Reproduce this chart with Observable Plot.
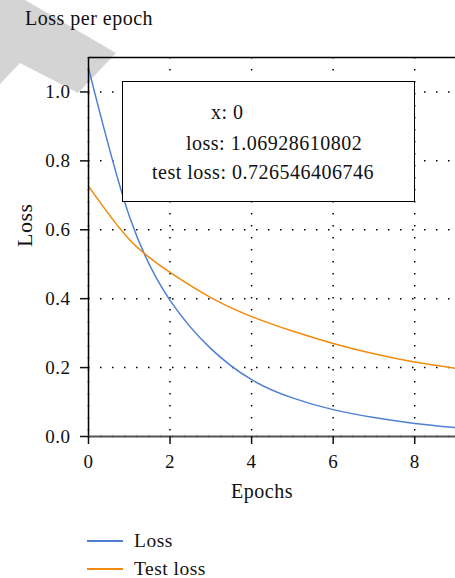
<!DOCTYPE html>
<html>
<head>
<meta charset="utf-8">
<script src="https://cdn.jsdelivr.net/npm/d3@7"></script>
<script src="https://cdn.jsdelivr.net/npm/@observablehq/plot@0.6"></script>
<style>
  html, body { margin: 0; padding: 0; background: #fff; }
  #root { position: relative; width: 455px; height: 578px; overflow: hidden;
          font-family: "Liberation Serif", serif; color: #111; letter-spacing: 0.5px; }
  #mark { position: absolute; left: 0; top: 0; width: 130px; height: 100px; background: #d4d4d4;
          clip-path: polygon(0px 0px, 25px 0px, 116px 53px, 78px 93px, 20px 63px, 0px 84px); }
  #chart { position: absolute; left: 0; top: 0; }
  #chart svg text { font-family: "Liberation Serif", serif; }
  #title { position: absolute; left: 25px; top: 8px; font-size: 20px; line-height: 20px; white-space: nowrap; }
  #tip { position: absolute; left: 122px; top: 81px; width: 291px; height: 119px; background: #fff;
         border: 1.5px solid #000; font-size: 20px; line-height: 20px; }
  #tip div { position: absolute; white-space: nowrap; }
  .leg-line { position: absolute; left: 87px; width: 36px; height: 1.5px; }
  .leg-text { position: absolute; left: 134px; font-size: 19.5px; line-height: 19px; white-space: nowrap; }
</style>
</head>
<body>
<div id="root">
  <div id="mark"></div>
  <div id="title"></div>
  <div id="chart"></div>
  <div id="tip"></div>
  <div id="legend"></div>
</div>
<script>
// ---- data ----
const epochs   = [0, 1, 2, 3, 4, 5, 6, 7, 8, 9];
const loss     = [1.06928610802, 0.64, 0.395, 0.255, 0.165, 0.112, 0.078, 0.055, 0.038, 0.026];
const testLoss = [0.726546406746, 0.572, 0.476, 0.403, 0.348, 0.306, 0.270, 0.240, 0.216, 0.198];
const xTicks = [0, 2, 4, 6, 8];
const yTicks = [0, 0.2, 0.4, 0.6, 0.8, 1.0];
const seriesNames = ["Loss", "Test loss"];
const seriesColors = ["#4f7fd3", "#f28a0c"];
const titleText = "Loss per epoch";
const xLabel = "Epochs";
const yLabel = "Loss";
const tipIndex = 0;

const rows = epochs.map((e, i) => ({epoch: e, loss: loss[i], test: testLoss[i]}));
const serif = "Liberation Serif";

const chart = Plot.plot({
  width: 455,
  height: 520,
  marginTop: 57,
  marginLeft: 88,
  marginRight: 0,
  marginBottom: 84,
  style: {fontFamily: serif, fontSize: "19px", background: "transparent", color: "#111", letterSpacing: "0.5px"},
  x: {domain: [0, 9]},
  y: {domain: [0, 1.1]},
  marks: [
    Plot.gridX(xTicks, {stroke: "#000", strokeOpacity: 1, strokeWidth: 1.5, strokeDasharray: "1.5,10.5"}),
    Plot.gridY(yTicks, {stroke: "#000", strokeOpacity: 1, strokeWidth: 1.5, strokeDasharray: "1.5,10.5"}),
    Plot.line(rows, {x: "epoch", y: "loss", stroke: seriesColors[0], strokeWidth: 1.5, curve: "natural"}),
    Plot.line(rows, {x: "epoch", y: "test", stroke: seriesColors[1], strokeWidth: 1.5, curve: "natural"}),
    Plot.ruleY([1.1], {stroke: "#000", strokeWidth: 1.5}),
    Plot.ruleX([0], {stroke: "#000", strokeWidth: 1.5, insetBottom: -2}),
    Plot.ruleY([0], {stroke: "#555", strokeWidth: 2}),
    Plot.axisY(yTicks, {tickSize: 8, tickPadding: 10, tickFormat: d3.format(".1f"), label: null, strokeWidth: 1.5, fontFamily: serif}),
    Plot.axisX(xTicks, {tickSize: 8, tickPadding: 10, tickFormat: d => String(d), label: null, strokeWidth: 1.5, fontFamily: serif}),
    Plot.text([xLabel], {frameAnchor: "bottom", dy: 61, dx: -10, fontSize: 20, fontFamily: serif}),
    Plot.text([yLabel], {frameAnchor: "left", dx: -64, rotate: -90, fontSize: 22, fontFamily: serif})
  ]
});
document.getElementById("chart").appendChild(chart);

document.getElementById("title").textContent = titleText;

// tooltip
const tip = document.getElementById("tip");
const tipLines = [
  {text: "x: " + epochs[tipIndex], left: 88, top: 20},
  {text: "loss: " + loss[tipIndex], left: 63, top: 51},
  {text: "test loss: " + testLoss[tipIndex], left: 29, top: 80}
];
tipLines.forEach(l => {
  const d = document.createElement("div");
  d.textContent = l.text;
  d.style.left = l.left + "px";
  d.style.top = l.top + "px";
  tip.appendChild(d);
});

// legend
const legend = document.getElementById("legend");
const legLineY = [541, 569];
seriesNames.forEach((name, i) => {
  const ln = document.createElement("div");
  ln.className = "leg-line";
  ln.style.top = (legLineY[i] - 0.75) + "px";
  ln.style.background = seriesColors[i];
  legend.appendChild(ln);
  const t = document.createElement("div");
  t.className = "leg-text";
  t.textContent = name;
  t.style.top = (legLineY[i] - 10) + "px";
  legend.appendChild(t);
});
</script>
</body>
</html>
